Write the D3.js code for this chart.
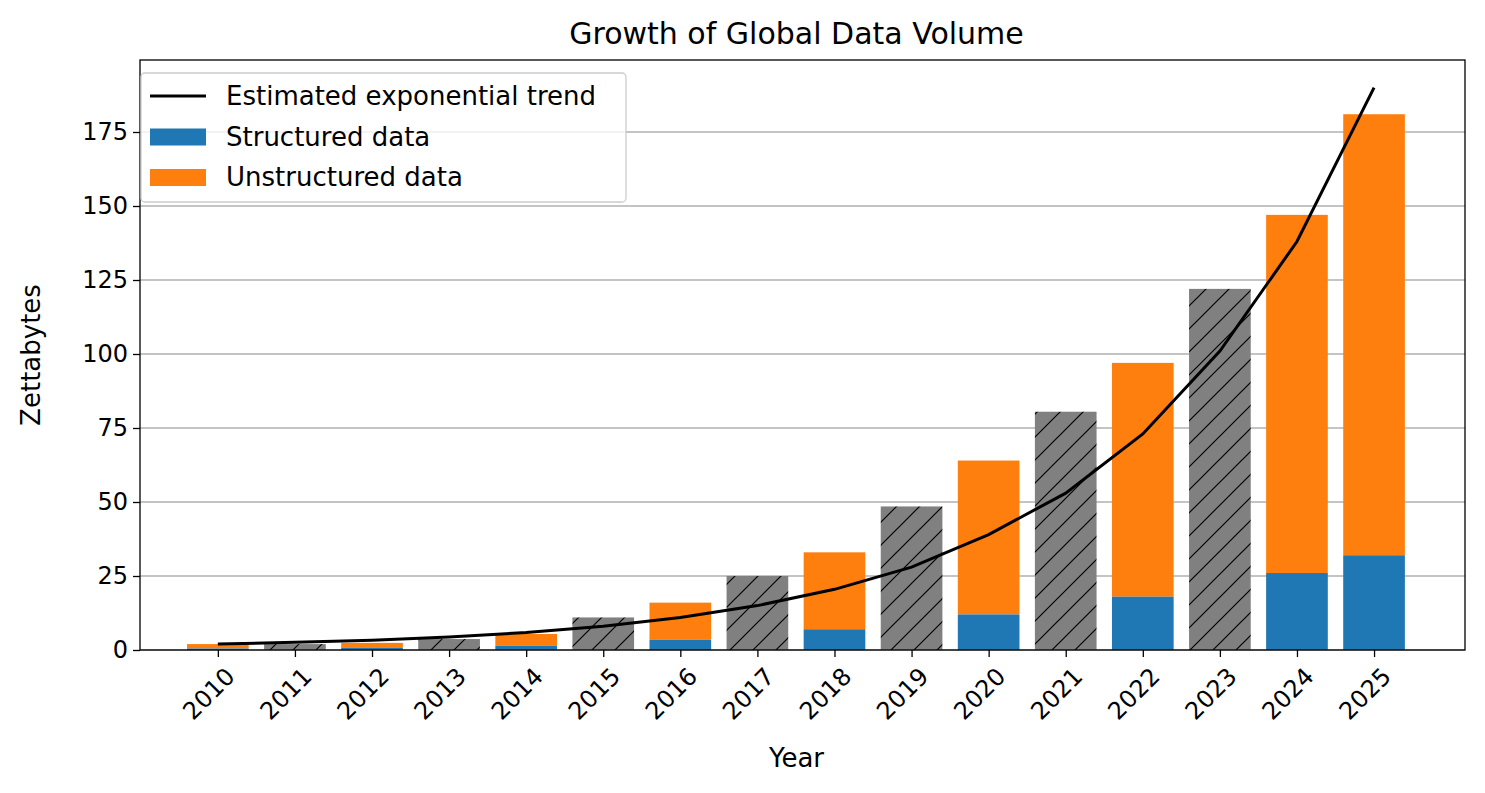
<!DOCTYPE html>
<html><head><meta charset="utf-8">
<script src="https://cdn.jsdelivr.net/npm/d3@7"></script>
<style>body{margin:0;background:#fff}text{font-family:"DejaVu Sans",sans-serif}</style>
</head><body>
<svg id="chart" width="1485" height="793"></svg>
<script>
// values
var years = [2010,2011,2012,2013,2014,2015,2016,2017,2018,2019,2020,2021,2022,2023,2024,2025];
var totals = [2,2,2.4,3.7,5.4,11,16,25,33,48.5,64,80.5,97,122,147,181];
var structured = [0.5,0,0.8,0,1.4,0,3.5,0,7,0,12,0,18,0,26,32];
var hatched = [0,1,0,1,0,1,0,1,0,1,0,1,0,1,0,0];
var trend = [2,2.6,3.3,4.4,5.9,8,11,15,20.5,28,39,53,73,101,138,190];
var yTicks = [0,25,50,75,100,125,150,175];

var svg = d3.select("#chart");
var L = 140, R = 1465, T = 60, B = 650;
var x = d3.scaleLinear().domain([2008.99, 2026.18]).range([L, R]);
var y = d3.scaleLinear().domain([0, 175]).range([B, 132]);
var bw = x(2010.4) - x(2009.6);

var defs = svg.append("defs");
var pat = defs.append("pattern").attr("id","hatch").attr("patternUnits","userSpaceOnUse")
  .attr("width",23).attr("height",23);
pat.append("rect").attr("width",23).attr("height",23).attr("fill","#808080");
pat.append("path").attr("d","M-2,25 L25,-2 M-5,5 L5,-5 M18,28 L28,18").attr("stroke","#000").attr("stroke-width",1.2);

// grid
svg.selectAll(".grid").data(yTicks).enter().append("line")
  .attr("x1",L).attr("x2",R).attr("y1",d=>y(d)).attr("y2",d=>y(d))
  .attr("stroke","#b0b0b0").attr("stroke-width",1.3);

var g = svg.append("g");
years.forEach(function(yr,i){
  if (hatched[i]) {
    g.append("rect").attr("x",x(yr)-bw/2).attr("width",bw)
      .attr("y",y(totals[i])).attr("height",B-y(totals[i])).attr("fill","url(#hatch)");
  } else {
    g.append("rect").attr("x",x(yr)-bw/2).attr("width",bw)
      .attr("y",y(totals[i])).attr("height",y(structured[i])-y(totals[i])).attr("fill","#ff7f0e");
    g.append("rect").attr("x",x(yr)-bw/2).attr("width",bw)
      .attr("y",y(structured[i])).attr("height",B-y(structured[i])).attr("fill","#1f77b4");
  }
});

svg.append("path").datum(years.map((yr,i)=>[yr,trend[i]]))
  .attr("d", d3.line().x(d=>x(d[0])).y(d=>y(d[1])))
  .attr("fill","none").attr("stroke","#000").attr("stroke-width",3);

// frame
svg.append("rect").attr("x",L).attr("y",T).attr("width",R-L).attr("height",B-T)
  .attr("fill","none").attr("stroke","#000").attr("stroke-width",1.3);

// axes
var xa = svg.append("g").attr("transform","translate(0,"+B+")")
  .call(d3.axisBottom(x).tickValues(years).tickFormat(d3.format("d")).tickSize(7));
xa.select(".domain").remove();
xa.selectAll("text").style("font-size","24px").attr("fill","#000")
  .attr("text-anchor","end").attr("y",0).attr("dy","0.35em")
  .attr("transform","translate(12,22) rotate(-45)");
xa.selectAll("line").attr("stroke-width",1.3);
var ya = svg.append("g").attr("transform","translate("+L+",0)")
  .call(d3.axisLeft(y).tickValues(yTicks).tickSize(7).tickPadding(5));
ya.select(".domain").remove();
ya.selectAll("text").style("font-size","24px").attr("fill","#000");
ya.selectAll("line").attr("stroke-width",1.3);

svg.append("text").attr("x",(L+R)/2+(-6)).attr("y",44).attr("text-anchor","middle").style("font-size","30px").text("Growth of Global Data Volume");
svg.append("text").attr("x",(L+R)/2-6).attr("y",767).attr("text-anchor","middle").style("font-size","26px").text("Year");
svg.append("text").attr("transform","translate(40,"+(T+B)/2+") rotate(-90)").attr("text-anchor","middle").style("font-size","26px").text("Zettabytes");

// legend
var lg = svg.append("g");
lg.append("rect").attr("x",141).attr("y",73).attr("width",485).attr("height",129).attr("rx",4)
  .attr("fill","#fff").attr("fill-opacity",0.8).attr("stroke","#ccc").attr("stroke-width",1.3);
var items = [["line","#000","Estimated exponential trend"],["rect","#1f77b4","Structured data"],["rect","#ff7f0e","Unstructured data"]];
items.forEach(function(it,i){
  var cy = 96 + i*40.5;
  if (it[0]==="line") lg.append("line").attr("x1",150).attr("x2",206).attr("y1",cy).attr("y2",cy).attr("stroke",it[1]).attr("stroke-width",3);
  else lg.append("rect").attr("x",150).attr("y",cy-8).attr("width",56).attr("height",17).attr("fill",it[1]);
  lg.append("text").attr("x",226).attr("y",cy).attr("dy","0.35em").style("font-size","26px").text(it[2]);
});
</script>
</body></html>
